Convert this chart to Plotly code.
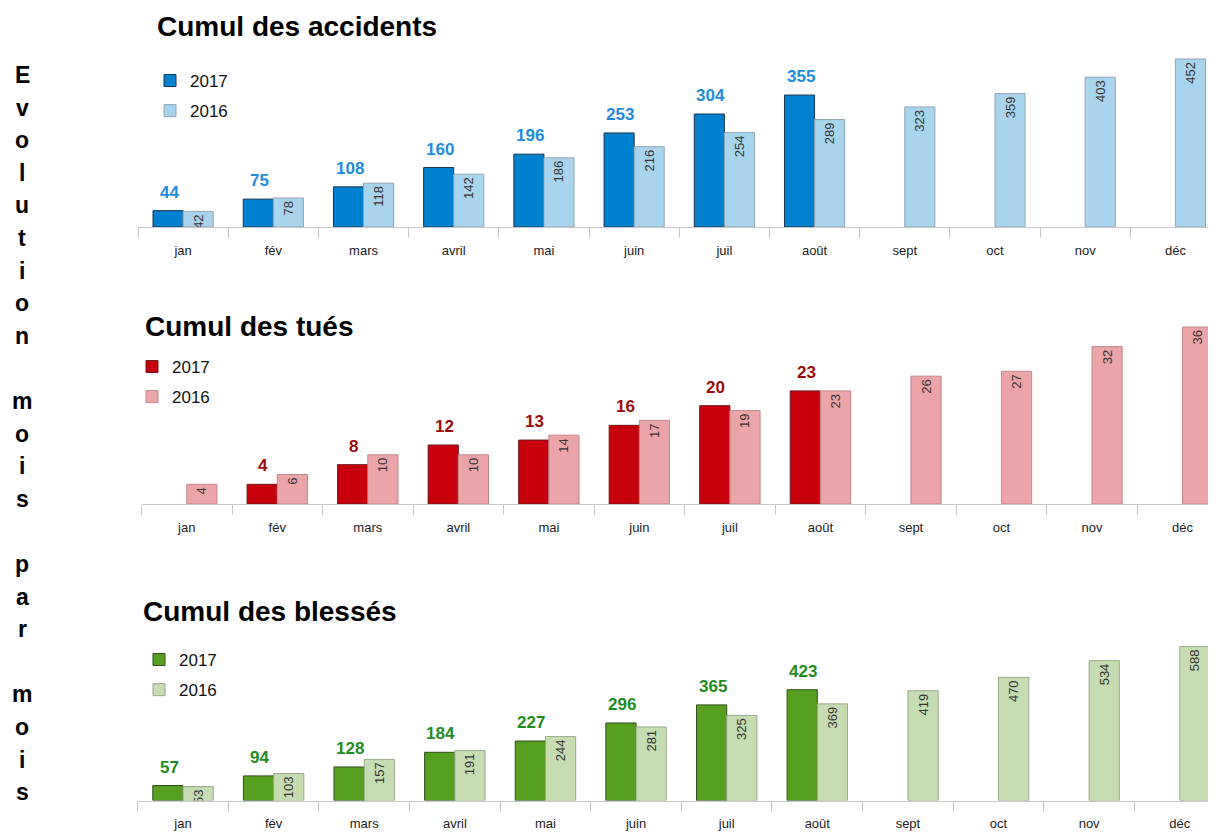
import plotly.graph_objects as go

months = ["jan", "fév", "mars", "avril", "mai", "juin", "juil", "août", "sept", "oct", "nov", "déc"]

acc_2017 = [44, 75, 108, 160, 196, 253, 304, 355]
acc_2016 = [42, 78, 118, 142, 186, 216, 254, 289, 323, 359, 403, 452]

tues_2017 = [None, 4, 8, 12, 13, 16, 20, 23]
tues_2016 = [4, 6, 10, 10, 14, 17, 19, 23, 26, 27, 32, 36]

bles_2017 = [57, 94, 128, 184, 227, 296, 365, 423]
bles_2016 = [53, 103, 157, 191, 244, 281, 325, 369, 419, 470, 534, 588]

titles = ["Cumul des accidents", "Cumul des tués", "Cumul des blessés"]
side_text = "Evolution mois par mois"

# the page body has an 8px margin: the figure starts at (8, 8)
OX, OY = 8, 8
W, H = 1208, 828
FONT = "Liberation Sans, Arial, sans-serif"


def fx(px):
    return (px - OX) / W


def fy(py):
    return 1 - (py - OY) / H


panels = [
    dict(v17=acc_2017, v16=acc_2016,
         c17="#0081D0", l17="#1A3550", c16="#A8D4EE", l16="#8FA5B3", t17="#1E8CDC",
         left=138, base=227, top=50, ppu=168 / 452, xr=11.45,
         title_x=155, title_y=27, leg_x=150, leg_y=63),
    dict(v17=tues_2017, v16=tues_2016,
         c17="#C8000D", l17="#6A1A1A", c16="#EBA4A7", l16="#C4878B", t17="#9B0A0A",
         left=141.5, base=504, top=320, ppu=177 / 36, xr=11.37,
         title_x=143, title_y=327, leg_x=132, leg_y=349),
    dict(v17=bles_2017, v16=bles_2016,
         c17="#579F1F", l17="#2F4A1C", c16="#C5DDB1", l16="#98A88A", t17="#1E8C1E",
         left=137.7, base=800.5, top=640, ppu=154 / 588, xr=11.40,
         title_x=141, title_y=611, leg_x=139, leg_y=642),
]

fig = go.Figure()
annotations = []
layout = {}

for i, p in enumerate(panels):
    k = "" if i == 0 else str(i + 1)
    xa, ya = "x" + k, "y" + k
    leg = "legend" + k
    m17 = months[:len(p["v17"])]
    fig.add_trace(go.Bar(
        x=m17, y=p["v17"], name="2017", xaxis=xa, yaxis=ya, legend=leg, legendgroup="a" + k,
        marker=dict(color=p["c17"], line=dict(color=p["l17"], width=1)),
        hoverinfo="x+y",
    ))
    fig.add_trace(go.Bar(
        x=months, y=p["v16"], name="2016", xaxis=xa, yaxis=ya, legend=leg, legendgroup="b" + k,
        marker=dict(color=p["c16"], line=dict(color=p["l16"], width=1)),
        text=[str(v) for v in p["v16"]], textposition="inside", insidetextanchor="end",
        textangle=-90, constraintext="none",
        textfont=dict(family=FONT, size=13, color="#333333"),
        hoverinfo="x+y",
    ))
    for m, v in zip(m17, p["v17"]):
        if v is None:
            continue
        annotations.append(dict(
            x=m, y=v, xref=xa, yref=ya, text="<b>%d</b>" % v, showarrow=False,
            xanchor="center", yanchor="bottom", xshift=-14, yshift=7,
            font=dict(family=FONT, size=17, color=p["t17"]),
        ))
    annotations.append(dict(
        x=fx(p["title_x"]), y=fy(p["title_y"]), xref="paper", yref="paper",
        text="<b>%s</b>" % titles[i], showarrow=False, xanchor="left", yanchor="middle",
        font=dict(family=FONT, size=28, color="#000000"),
    ))
    yrange = (p["base"] - p["top"]) / p["ppu"]
    layout["xaxis" + k] = dict(
        domain=[fx(p["left"]), 1], range=[-0.5, p["xr"]], anchor=ya,
        type="category", categoryorder="array", categoryarray=months,
        showline=True, linecolor="#C8C8C8", linewidth=1,
        ticks="outside", tickson="boundaries", ticklen=10, tickcolor="#C8C8C8",
        showgrid=False, zeroline=False, ticklabelstandoff=11,
        tickfont=dict(family=FONT, size=13, color="#222222"),
    )
    layout["yaxis" + k] = dict(
        domain=[fy(p["base"]), fy(p["top"])], range=[0, yrange], anchor=xa,
        visible=False, showgrid=False, zeroline=False,
    )
    layout[leg] = dict(
        x=fx(p["leg_x"]), y=fy(p["leg_y"]), xanchor="left", yanchor="top",
        orientation="v", traceorder="grouped", tracegroupgap=5,
        font=dict(family=FONT, size=17, color="#111111"), bgcolor="rgba(0,0,0,0)",
    )

# vertical side title, one letter per line
letters = []
for word in side_text.split(" "):
    letters.extend(list(word))
    letters.append("")
letters = letters[:-1]
for j, ch in enumerate(letters):
    if not ch:
        continue
    annotations.append(dict(
        x=fx(22), y=fy(75 + j * 32.6), xref="paper", yref="paper", text="<b>%s</b>" % ch,
        showarrow=False, xanchor="center", yanchor="middle",
        font=dict(family=FONT, size=23, color="#000000"),
    ))

fig.update_layout(
    width=W, height=H, margin=dict(l=0, r=0, t=0, b=0),
    paper_bgcolor="white", plot_bgcolor="white",
    barmode="group", bargap=0.333, bargroupgap=0,
    annotations=annotations, showlegend=True,
    **layout,
)

fig.write_html("out.html")
